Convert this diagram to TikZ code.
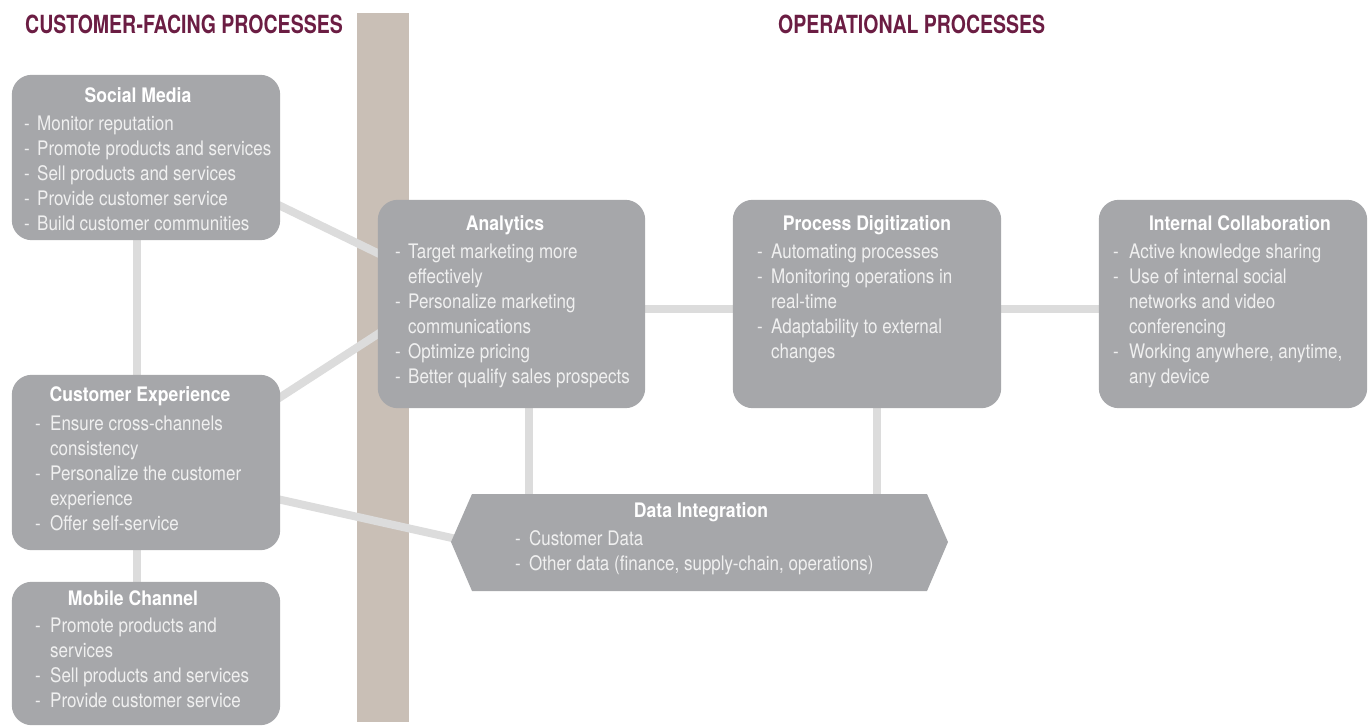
\documentclass[tikz,border=0pt]{standalone}
\usepackage{fontspec}
\setmainfont{TeX Gyre Heros}[FakeStretch=0.85]
\newfontfamily\ttlfam{TeX Gyre Heros}[FakeStretch=0.88]
\newfontfamily\hdrfam{TeX Gyre Heros}[FakeStretch=0.78]
\usetikzlibrary{calc}
\definecolor{boxgray}{HTML}{A6A7AA}
\definecolor{linkgray}{HTML}{DCDCDC}
\definecolor{tan}{HTML}{C9BFB6}
\definecolor{maroon}{HTML}{6B1D43}
\definecolor{bodytxt}{HTML}{F0F0F0}
\newcommand\itm[2][14pt]{\makebox[#1][l]{-}#2}
\newcommand\cnt[2][14pt]{\makebox[#1][l]{}#2}
\newcommand\fst{\rule{0pt}{16pt}}
\tikzset{
  procbox/.style={fill=boxgray, draw=none, rounded corners=20pt, inner sep=0pt},
  link/.style={draw=linkgray, line width=8pt},
  ttl/.style={font=\ttlfam\bfseries\fontsize{20}{25}\selectfont, text=white, inner sep=0pt, anchor=base},
  body/.style={font=\fontsize{20}{25}\selectfont, text=bodytxt, inner sep=0pt, align=left, anchor=north west},
  hdr/.style={font=\hdrfam\bfseries\fontsize{25}{30}\selectfont, text=maroon, inner sep=0pt, anchor=base west}
}
\begin{document}
\begin{tikzpicture}[x=1pt,y=-1pt]
\useasboundingbox (0,0) rectangle (1372,725);
% headers
\node[hdr] (h1) at (25,34) {CUSTOMER-FACING PROCESSES};
\node[hdr] (h2) at (778,34) {OPERATIONAL PROCESSES};
% tan bar
\node[fill=tan, inner sep=0pt, minimum width=52pt, minimum height=709pt] (bar) at (383,367.5) {};
% box centres
\coordinate (smc) at (146,157.5);
\coordinate (cec) at (146,462.5);
\coordinate (mcc) at (146,653.5);
\coordinate (anc) at (511.5,304);
\coordinate (pdc) at (867,304);
\coordinate (icc) at (1233,304);
\coordinate (di) at (699.5,542.5);
% box nodes (filled later, on top of links)
\path
  node[minimum width=268pt, minimum height=165pt, inner sep=0pt] (sm) at (smc) {}
  node[minimum width=268pt, minimum height=175pt, inner sep=0pt] (ce) at (cec) {}
  node[minimum width=268pt, minimum height=143pt, inner sep=0pt] (mc) at (mcc) {}
  node[minimum width=267pt, minimum height=208pt, inner sep=0pt] (an) at (anc) {}
  node[minimum width=268pt, minimum height=208pt, inner sep=0pt] (pd) at (pdc) {}
  node[minimum width=268pt, minimum height=208pt, inner sep=0pt] (ic) at (icc) {};
\coordinate (dil) at ($(di)+(-248.5,-0.5)$);
% links
\draw[link] ($(sm.east)+(-12,42.5)$) -- ($(an.west)+(14,-44)$);
\draw[link] ($(ce.east)+(-12,-57.5)$) -- ($(an.west)+(14,21)$);
\draw[link] ($(ce.east)+(-12,34.5)$) -- ($(dil)+(19,0)$);
\draw[link] ($(sm.south)+(-9,-10)$) -- ($(ce.north)+(-9,10)$);
\draw[link] ($(ce.south)+(-9,-10)$) -- ($(mc.north)+(-9,10)$);
\draw[link] ($(an.east)+(-15,5)$) -- ($(pd.west)+(12,5)$);
\draw[link] ($(pd.east)+(-12,5)$) -- ($(ic.west)+(12,5)$);
\draw[link] ($(an.south)+(17.5,-8)$) -- ($(di)+(-170.5,-40)$);
\draw[link] ($(pd.south)+(10,-8)$) -- ($(di)+(177.5,-40)$);
% boxes
\foreach \b in {sm,ce,mc,an,pd,ic}
  \fill[boxgray, rounded corners=20pt] (\b.north west) rectangle (\b.south east);
\fill[boxgray] ($(di)+(-227.5,-48.5)$) -- ($(di)+(227.5,-48.5)$) -- ($(di)+(248.5,-0.5)$)
  -- ($(di)+(227.5,48.5)$) -- ($(di)+(-227.5,48.5)$) -- (dil) -- cycle;
% titles
\node[ttl] (smt) at (138,102) {Social Media};
\node[ttl] (cet) at (140,401) {Customer Experience};
\node[ttl] (mct) at (133,605) {Mobile Channel};
\node[ttl] (ant) at (505,230) {Analytics};
\node[ttl] (pdt) at (867,230) {Process Digitization};
\node[ttl] (ict) at (1240,230) {Internal Collaboration};
\node[ttl] (dit) at (701,517) {Data Integration};
% bodies
\node[body] (smb) at (24,114) {\fst\itm[13pt]{Monitor reputation}\\
  \itm[13pt]{Promote products and services}\\
  \itm[13pt]{Sell products and services}\\
  \itm[13pt]{Provide customer service}\\
  \itm[13pt]{Build customer communities}};
\node[body] (ceb) at (35,414) {\fst\itm[15pt]{Ensure cross-channels}\\
  \cnt[15pt]{consistency}\\
  \itm[15pt]{Personalize the customer}\\
  \cnt[15pt]{experience}\\
  \itm[15pt]{Offer self-service}};
\node[body] (mcb) at (35,616) {\fst\itm[15pt]{Promote products and}\\
  \cnt[15pt]{services}\\
  \itm[15pt]{Sell products and services}\\
  \itm[15pt]{Provide customer service}};
\node[body] (anb) at (395,242) {\fst\itm[13pt]{Target marketing more}\\
  \cnt[13pt]{effectively}\\
  \itm[13pt]{Personalize marketing}\\
  \cnt[13pt]{communications}\\
  \itm[13pt]{Optimize pricing}\\
  \itm[13pt]{Better qualify sales prospects}};
\node[body] (pdb) at (757,242) {\fst\itm[14pt]{Automating processes}\\
  \itm[14pt]{Monitoring operations in}\\
  \cnt[14pt]{real-time}\\
  \itm[14pt]{Adaptability to external}\\
  \cnt[14pt]{changes}};
\node[body] (icb) at (1113,242) {\fst\itm[16pt]{Active knowledge sharing}\\
  \itm[16pt]{Use of internal social}\\
  \cnt[16pt]{networks and video}\\
  \cnt[16pt]{conferencing}\\
  \itm[16pt]{Working anywhere, anytime,}\\
  \cnt[16pt]{any device}};
\node[body] (dib) at (515,529) {\fst\itm[14pt]{Customer Data}\\
  \itm[14pt]{Other data (finance, supply-chain, operations)}};
\end{tikzpicture}
\end{document}
